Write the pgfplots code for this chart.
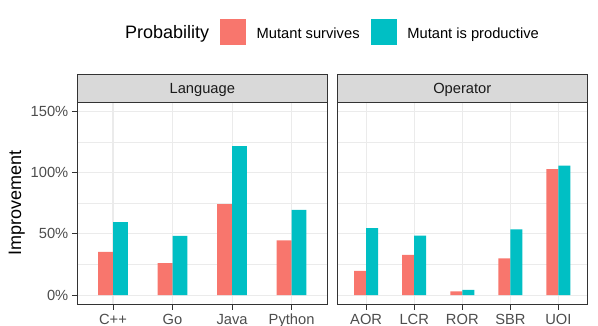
\documentclass[border=0pt]{standalone}
\usepackage{pgfplots}
\pgfplotsset{compat=1.18}
\usepackage{fontspec}
\setmainfont{Liberation Sans}

\definecolor{survive}{HTML}{F8766D}
\definecolor{product}{HTML}{00BFC4}
\definecolor{gridc}{HTML}{EBEBEB}
\definecolor{framec}{HTML}{333333}
\definecolor{tickl}{HTML}{4D4D4D}
\definecolor{stripf}{HTML}{D9D9D9}
\definecolor{stript}{HTML}{1A1A1A}

\newcommand{\txtfont}{\fontsize{14.7}{16}\selectfont}
\newcommand{\ttlfont}{\fontsize{18}{20}\selectfont}

\pgfplotsset{facet/.style={
    scale only axis, width=250pt, height=202pt, anchor=south west,
    ymin=-7.5, ymax=157.5, xmin=0.4,
    axis line style={framec, line width=1.2pt},
    grid=both,
    major grid style={gridc, line width=1.1pt},
    minor grid style={gridc, line width=0.55pt},
    ytick={0,50,100,150}, minor ytick={25,75,125},
    tick align=outside, major tick length=5.3pt, minor tick length=0pt,
    tick style={framec, line width=1pt},
    xtick pos=bottom, ytick pos=left,
    ticklabel style={font=\txtfont, text=tickl, inner sep=0pt},
    xticklabel style={anchor=base, yshift=-15pt},
    yticklabel style={anchor=east, xshift=-3.5pt},
    legend image code/.code={\path[#1, draw=none] (0pt,-7.74pt) rectangle (26pt,18.26pt);},
}}

\begin{document}
\begin{tikzpicture}
\useasboundingbox (0,0) rectangle (598pt,326pt);

\begin{axis}[facet, name=lang, at={(77.3pt,21.7pt)},
    xmax=4.6, xtick={1,2,3,4}, xticklabels={C++,Go,Java,Python},
    yticklabels={0\%,50\%,100\%,150\%},
    ylabel={Improvement},
    ylabel style={at={(axis description cs:-0.2424,0.5)}, anchor=center, font=\ttlfont},
    legend columns=2,
    legend style={at={(axis description cs:0.5708,1.347)}, anchor=west,
        draw=none, fill=none, inner sep=0pt, outer sep=0pt,
        font=\txtfont, nodes={inner sep=0pt},
        /tikz/every odd column/.append style={column sep=10.7pt},
        /tikz/every even column/.append style={column sep=11pt}},
]
\addplot[ybar, bar width=0.25, bar shift=-0.125, fill=survive, draw=none]
    coordinates {(1,35.3) (2,26.2) (3,74.3) (4,44.8)};
\addlegendentry{\raisebox{5.5pt}{Mutant survives}}
\addplot[ybar, bar width=0.25, bar shift=0.125, fill=product, draw=none]
    coordinates {(1,59.7) (2,48.3) (3,121.8) (4,69.7)};
\addlegendentry{\raisebox{5.5pt}{Mutant is productive}}
\end{axis}

\begin{axis}[facet, name=oper, at={(337.3pt,21.7pt)},
    xmax=5.6, xtick={1,2,3,4,5}, xticklabels={AOR,LCR,ROR,SBR,UOI},
    yticklabels={}, ytick style={draw=none},
]
\addplot[ybar, bar width=0.25, bar shift=-0.125, fill=survive, draw=none]
    coordinates {(1,19.8) (2,32.8) (3,3.0) (4,30.1) (5,103.0)};
\addplot[ybar, bar width=0.25, bar shift=0.125, fill=product, draw=none]
    coordinates {(1,54.8) (2,48.6) (3,4.3) (4,53.7) (5,105.8)};
\end{axis}

% facet strips
\draw[framec, line width=1.2pt, fill=stripf] (lang.north west) rectangle ([yshift=28pt]lang.north east);
\node[anchor=base, inner sep=0pt, text=stript, font=\txtfont] at ([yshift=8.74pt]lang.north) {Language};
\draw[framec, line width=1.2pt, fill=stripf] (oper.north west) rectangle ([yshift=28pt]oper.north east);
\node[anchor=base, inner sep=0pt, text=stript, font=\txtfont] at ([yshift=8.74pt]oper.north) {Operator};

% legend title
\node[anchor=base west, inner sep=0pt, font=\ttlfont] at (125pt,287.36pt) {Probability};
\end{tikzpicture}
\end{document}
